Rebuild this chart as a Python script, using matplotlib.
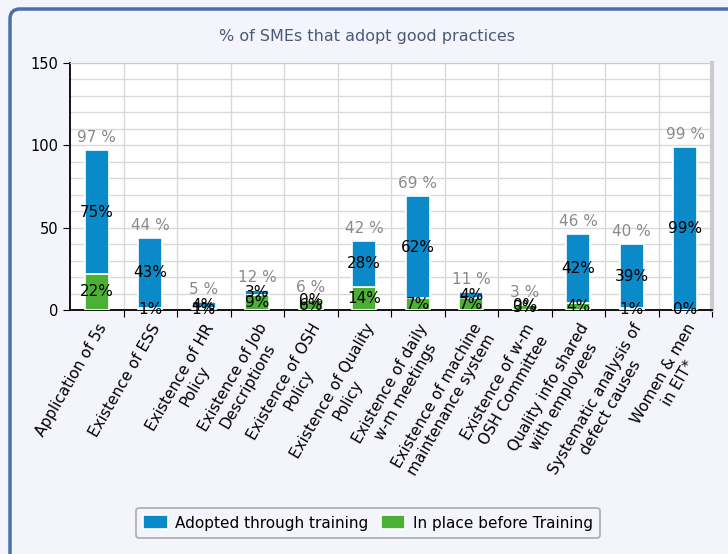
import numpy as np
import matplotlib.pyplot as plt
from matplotlib.patches import PathPatch
from matplotlib.path import Path
from matplotlib.ticker import MultipleLocator

categories = ["Application of 5s", "Existence of ESS", "Existence of HR\nPolicy",
              "Existence of Job\nDescriptions", "Existence of OSH\nPolicy",
              "Existence of Quality\nPolicy", "Existence of daily\nw-m meetings",
              "Existence of machine\nmaintenance system", "Existence of w-m\nOSH Committee",
              "Quality info shared\nwith employees", "Systematic analysis of\ndefect causes",
              "Women & men\nin EIT*"]
before = [22, 1, 1, 9, 6, 14, 7, 7, 3, 4, 1, 0]
adopted = [75, 43, 4, 3, 0, 28, 62, 4, 0, 42, 39, 99]
totals = [97, 44, 5, 12, 6, 42, 69, 11, 3, 46, 40, 99]

blue = "#0a8ac8"
green = "#4cb034"
bg = "#f4f4fc"

W, H = 728, 554
fig = plt.figure(figsize=(W / 100, H / 100), dpi=100)
fig.patch.set_facecolor(bg)
fig.patch.set_linewidth(0)

# outer frame: only left edge, top-left rounded corner and top edge are visible
fx, fy, r = 10 / W, 1 - 9 / H, 10
verts = [(fx, 0.0), (fx, fy - r / H), (fx, fy), (fx + r / W, fy), (1.0, fy)]
codes = [Path.MOVETO, Path.LINETO, Path.CURVE3, Path.CURVE3, Path.LINETO]
fig.add_artist(PathPatch(Path(verts, codes), transform=fig.transFigure,
                         edgecolor="#4a70a8", linewidth=2.5, fill=False))

ax = fig.add_axes([70 / W, 1 - 310 / H, (712 - 70) / W, (310 - 63) / H])
ax.set_facecolor("white")

x = np.arange(len(categories))
w = 0.45
ax.bar(x, before, w, color=green, edgecolor="white", linewidth=1.2, zorder=3,
       label="In place before Training")
ax.bar(x, adopted, w, bottom=before, color=blue, edgecolor="white", linewidth=1.2,
       zorder=3, label="Adopted through training")

for i in x:
    ax.text(i, before[i] / 2, f"{before[i]}%", ha="center", va="center",
            fontsize=11, color="black", zorder=5)
    ax.text(i, before[i] + adopted[i] / 2, f"{adopted[i]}%", ha="center",
            va="center", fontsize=11, color="black", zorder=5)
    ax.text(i, totals[i] + 3, f"{totals[i]} %", ha="center", va="bottom",
            fontsize=11, color="#8a8a8a", zorder=5)

ax.set_xlim(-0.5, len(categories) - 0.5)
ax.set_ylim(0, 150)
ax.yaxis.set_major_locator(MultipleLocator(50))
ax.yaxis.set_minor_locator(MultipleLocator(10))
ax.set_xticks(x + 0.5, minor=False)
ax.set_xticklabels([])
ax.set_xticks(x, minor=True)
ax.set_xticklabels(categories, minor=True, rotation=60, ha="right", va="top",
                   rotation_mode="anchor", fontsize=11, multialignment="center")
ax.tick_params(axis="x", which="minor", length=0, pad=8)
ax.tick_params(axis="x", which="major", length=5, direction="out", color="black")
ax.tick_params(axis="y", which="major", length=5, labelsize=10.5)
ax.tick_params(axis="y", which="minor", length=0)

ax.grid(True, axis="y", which="both", color="#d9d9d9", linewidth=1, zorder=0)
ax.grid(True, axis="x", which="major", color="#d9d9d9", linewidth=1, zorder=0)
ax.set_axisbelow(True)

for s in ["top", "right"]:
    ax.spines[s].set_color("#cccccc")
ax.spines["right"].set_linewidth(3)
ax.spines["left"].set_linewidth(1.3)
ax.spines["bottom"].set_linewidth(1.3)

fig.text(367 / W, 1 - 36 / H, "% of SMEs that adopt good practices",
         ha="center", va="center", fontsize=11.5, color="#4a5a78")

handles, labels = ax.get_legend_handles_labels()
leg = fig.legend(handles[::-1], labels[::-1], loc="center",
                 bbox_to_anchor=(368 / W, 1 - 523 / H), ncol=2, fontsize=11,
                 frameon=True, fancybox=True, edgecolor="#999999",
                 facecolor=bg, handlelength=1.6, handleheight=1.0,
                 handletextpad=0.5, columnspacing=0.8, borderpad=0.5)
leg.get_frame().set_linewidth(1.2)

fig.savefig("out.png", dpi=100, facecolor=bg)
